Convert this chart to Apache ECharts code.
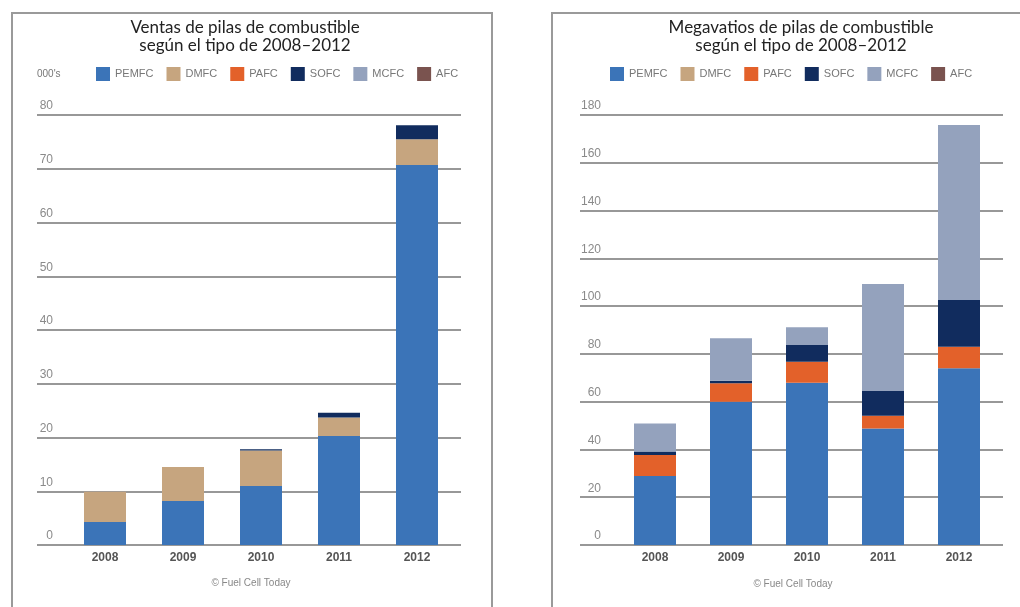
<!DOCTYPE html>
<html>
<head>
<meta charset="utf-8">
<script src="https://cdn.jsdelivr.net/npm/echarts@6/dist/echarts.min.js"></script>
<style>
  html, body { margin: 0; padding: 0; background: #fff; }
  #chart { width: 1020px; height: 607px; }
</style>
</head>
<body>
<div id="chart"></div>
<script>
// Years and fuel-cell technology types
const years = ['2008', '2009', '2010', '2011', '2012'];
const types = ['PEMFC', 'DMFC', 'PAFC', 'SOFC', 'MCFC', 'AFC'];
const typeColors = ['#3b74b8', '#c6a57f', '#e3612a', '#112c5e', '#94a2bd', '#7a534f'];

// Units shipped (thousands) by type
const salesPEMFC = [4.3, 8.2, 11.0, 20.3, 70.7];
const salesDMFC  = [5.6, 6.3, 6.6, 3.4, 4.8];
const salesPAFC  = [0, 0, 0, 0, 0];
const salesSOFC  = [0, 0, 0.2, 0.9, 2.6];
const salesMCFC  = [0, 0, 0, 0, 0];
const salesAFC   = [0, 0, 0, 0, 0];

// Megawatts shipped by type
const mwPEMFC = [28.9, 60.0, 67.9, 48.8, 74.0];
const mwDMFC  = [0, 0, 0, 0, 0];
const mwPAFC  = [8.8, 7.7, 8.8, 5.3, 9.0];
const mwSOFC  = [1.4, 1.1, 7.0, 10.4, 19.6];
const mwMCFC  = [11.8, 17.7, 7.4, 44.8, 73.2];
const mwAFC   = [0, 0, 0, 0, 0];

const salesTitle = 'Ventas de pilas de combustible\nsegún el tipo de 2008–2012';
const mwTitle = 'Megavatios de pilas de combustible\nsegún el tipo de 2008–2012';
const salesUnit = "000's";
const sourceText = '© Fuel Cell Today';

const salesSeries = [salesPEMFC, salesDMFC, salesPAFC, salesSOFC, salesMCFC, salesAFC];
const mwSeries = [mwPEMFC, mwDMFC, mwPAFC, mwSOFC, mwMCFC, mwAFC];

const chart = echarts.init(document.getElementById('chart'));

const gridColor = '#767676';
const labelFont = 'Liberation Sans';

function valueAxis(gridIndex, max, interval, visible, margin) {
  return {
    type: 'value', gridIndex, min: 0, max, interval,
    show: visible,
    axisLine: { show: false }, axisTick: { show: false },
    splitLine: { show: visible, lineStyle: { color: gridColor, width: 1.5 } },
    axisLabel: {
      inside: true, align: 'right', verticalAlign: 'bottom', margin,
      padding: [0, 0, 3, 0],
      color: '#8a8a8a', fontSize: 12, fontFamily: labelFont
    }
  };
}

function categoryAxis(gridIndex, visible) {
  return {
    type: 'category', gridIndex, data: years, show: visible,
    axisLine: { show: false }, axisTick: { show: false },
    axisLabel: { color: '#555', fontSize: 12, fontWeight: 'bold', fontFamily: labelFont, margin: 7 }
  };
}

function legend(left) {
  return {
    left, top: 67, padding: 0, itemWidth: 14, itemHeight: 14, itemGap: 13,
    icon: 'rect', data: types,
    textStyle: { color: '#777', fontSize: 11, fontFamily: labelFont, padding: [0, 0, 0, 0] }
  };
}

function title(text, left) {
  return {
    text, left, top: 19, padding: 0, textAlign: 'center',
    textStyle: { fontSize: 17, fontWeight: 'normal', color: '#222', lineHeight: 18, fontFamily: 'Lato' }
  };
}

const series = [];
types.forEach((t, i) => {
  series.push({
    name: t, type: 'bar', stack: 'ventas', xAxisIndex: 1, yAxisIndex: 1,
    barWidth: 42, data: salesSeries[i], itemStyle: { color: typeColors[i] }
  });
});
types.forEach((t, i) => {
  series.push({
    name: t, type: 'bar', stack: 'mw', xAxisIndex: 3, yAxisIndex: 3,
    barWidth: 42, data: mwSeries[i], itemStyle: { color: typeColors[i] }
  });
});

chart.setOption({
  backgroundColor: '#fff',
  animation: false,
  title: [title(salesTitle, 245), title(mwTitle, 801)],
  legend: [legend(96), legend(610)],
  grid: [
    { left: 37, top: 115, width: 424, height: 430 },   // sales gridlines
    { left: 66, top: 115, width: 390, height: 430 },   // sales bars
    { left: 580, top: 115, width: 423, height: 430 },  // MW gridlines
    { left: 617, top: 115, width: 380, height: 430 }   // MW bars
  ],
  xAxis: [categoryAxis(0, false), categoryAxis(1, true), categoryAxis(2, false), categoryAxis(3, true)],
  yAxis: [
    valueAxis(0, 80, 10, true, 16),
    valueAxis(1, 80, 10, false, 16),
    valueAxis(2, 180, 20, true, 21),
    valueAxis(3, 180, 20, false, 21)
  ],
  graphic: [
    { type: 'rect', shape: { x: 12, y: 13, width: 480, height: 620 }, style: { fill: 'none', stroke: '#9a9a9a', lineWidth: 2 }, silent: true },
    { type: 'rect', shape: { x: 552, y: 13, width: 520, height: 620 }, style: { fill: 'none', stroke: '#9a9a9a', lineWidth: 2 }, silent: true },
    { type: 'text', left: 37, top: 69, style: { text: salesUnit, fill: '#777', fontSize: 10, fontFamily: labelFont } },
    { type: 'text', x: 251, y: 583, style: { text: sourceText, fill: '#888', fontSize: 10, fontFamily: labelFont, align: 'center', verticalAlign: 'middle' } },
    { type: 'text', x: 793, y: 584, style: { text: sourceText, fill: '#888', fontSize: 10, fontFamily: labelFont, align: 'center', verticalAlign: 'middle' } }
  ],
  series
});
</script>
</body>
</html>
